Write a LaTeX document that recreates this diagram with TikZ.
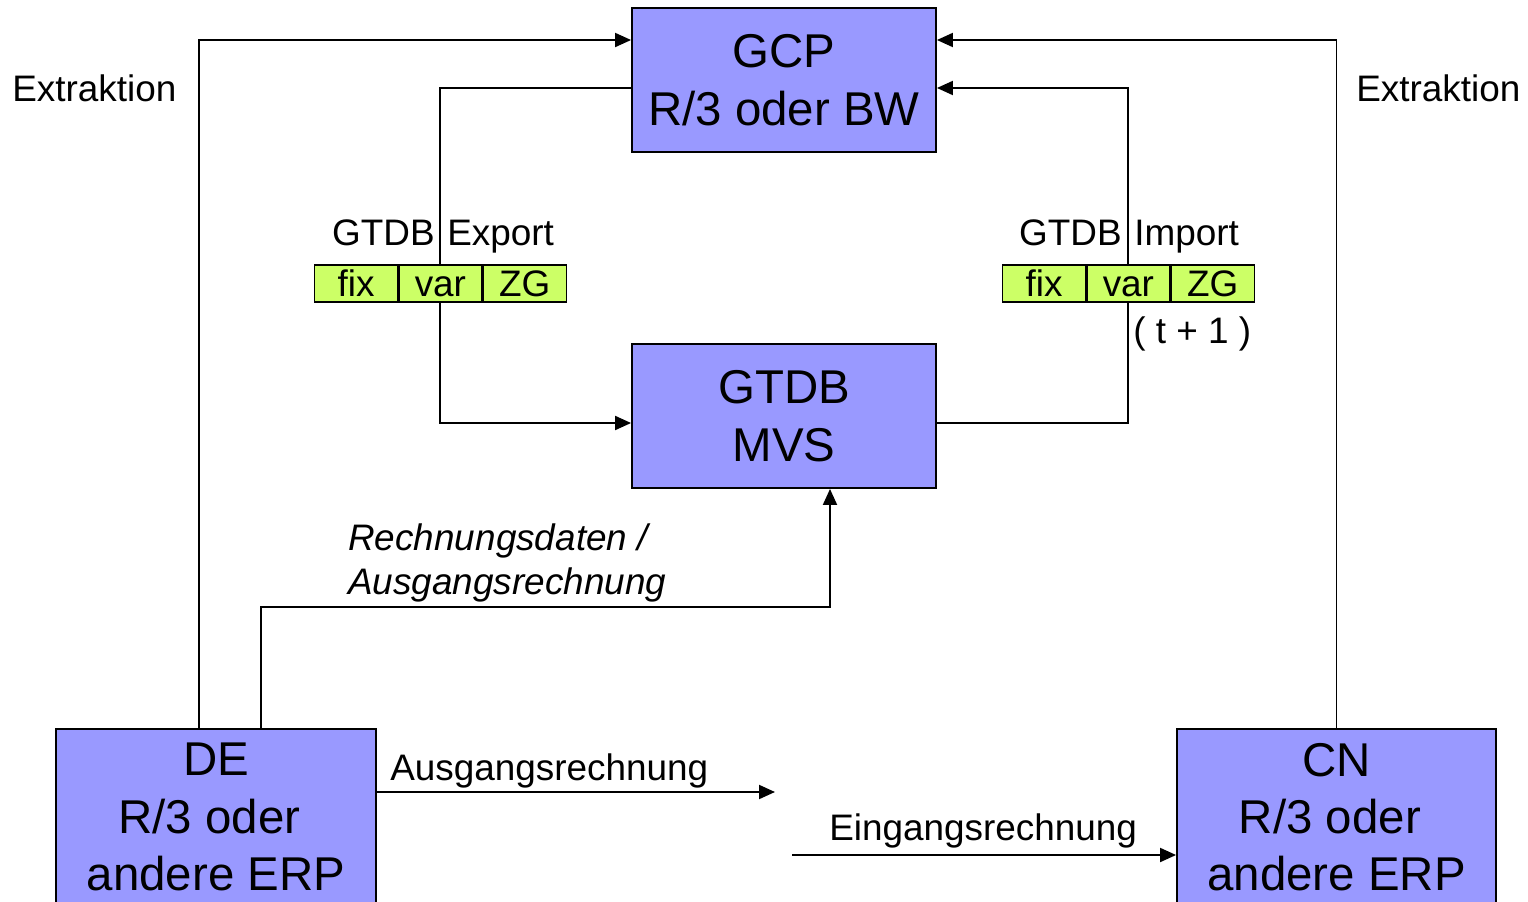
\documentclass[tikz,border=0pt]{standalone}
\usepackage{fontspec}
\setmainfont{Liberation Sans}
\usepackage{tikz}
\usetikzlibrary{positioning,arrows.meta,calc}
\definecolor{boxblue}{RGB}{153,153,255}
\definecolor{fieldgreen}{RGB}{204,255,102}

\begin{document}
\begin{tikzpicture}[
    x=0.02cm, y=-0.02cm,
    sysbox/.style={rectangle, draw, fill=boxblue, line width=1.1pt, minimum width=6.08cm, minimum height=2.88cm, align=center, font=\fontsize{27}{32.7}\selectfont},
    field/.style={rectangle, draw, fill=fieldgreen, line width=0.8pt, minimum width=1.66cm, minimum height=0.74cm, inner sep=0pt, text height=0.53cm, text depth=0pt, font=\fontsize{21}{25}\selectfont},
    lbl/.style={inner sep=0pt, font=\fontsize{21}{25}\selectfont},
    line/.style={line width=1.1pt},
    arrow/.style={line, -{Triangle[length=0.32cm,width=0.28cm]}}
]
    \useasboundingbox (0,0) rectangle (1528,902);
    \clip (0,0) rectangle (1528,902);

    % systems
    \node[sysbox] (gcp) at (784,80) {GCP\\R/3 oder BW};
    \node[sysbox] (mvs) at (784,416) {GTDB\\MVS};
    \node[sysbox, minimum width=6.4cm, minimum height=0pt, inner ysep=0.28cm, anchor=north] (de) at (216,728) {DE\\R/3 oder\ \mbox{}\\andere ERP};
    \node[sysbox, minimum width=6.38cm, minimum height=0pt, inner ysep=0.28cm, anchor=north] (cn) at (1336.5,728) {CN\\R/3 oder\ \mbox{}\\andere ERP};

    % GTDB record layout
    \node[field] (exfix) at (356,283.5) {fix};
    \node[field, right=0pt of exfix] (exvar) {var};
    \node[field, right=0pt of exvar] (exzg) {ZG};
    \node[field] (imfix) at (1044,283.5) {fix};
    \node[field, right=0pt of imfix] (imvar) {var};
    \node[field, right=0pt of imvar] (imzg) {ZG};

    \node[lbl, anchor=base east] (exgtdb) at (435,246) {GTDB};
    \node[lbl, anchor=base west] (exlbl) at (447,246) {Export};
    \node[lbl, anchor=base east] (imgtdb) at (1122,246) {GTDB};
    \node[lbl, anchor=base west] (imlbl) at (1134,246) {Import};
    \node[lbl, anchor=base west] (tplus) at (1133,343) {( t + 1 )};
    \node[lbl, anchor=base west] (extl) at (12,102) {Extraktion};
    \node[lbl, anchor=base west] (extr) at (1356,102) {Extraktion};
    \node[lbl, align=left, anchor=north west, font=\fontsize{21}{25}\selectfont\itshape] (rechlbl) at (348,523.5) {Rechnungsdaten /\\Ausgangsrechnung};
    \node[lbl, anchor=base west] (auslbl) at (390,780) {Ausgangsrechnung};
    \node[lbl, anchor=base west] (einlbl) at (829,840) {Eingangsrechnung};

    % connectors
    \draw[arrow] ([xshift=2.88cm]de.north west) |- ([yshift=0.8cm]gcp.west);
    \draw[arrow] (cn.north) |- ([yshift=0.8cm]gcp.east);
    \draw[line] ([yshift=-0.16cm]gcp.west) -| (exvar.north);
    \draw[arrow] (exvar.south) |- ([yshift=-0.14cm]mvs.west);
    \draw[line] ([yshift=-0.14cm]mvs.east) -| (imvar.south);
    \draw[arrow] (imvar.north) |- ([yshift=-0.16cm]gcp.east);
    \draw[arrow] ([xshift=4.12cm]de.north west) -- ++(0,-121) -| ([xshift=0.92cm]mvs.south);

    \coordinate (ausend) at (775,792);
    \draw[arrow] (de.east |- ausend) -- (ausend);
    \coordinate (einstart) at (792,855);
    \draw[arrow] (einstart) -- (einstart -| cn.west);
\end{tikzpicture}
\end{document}
